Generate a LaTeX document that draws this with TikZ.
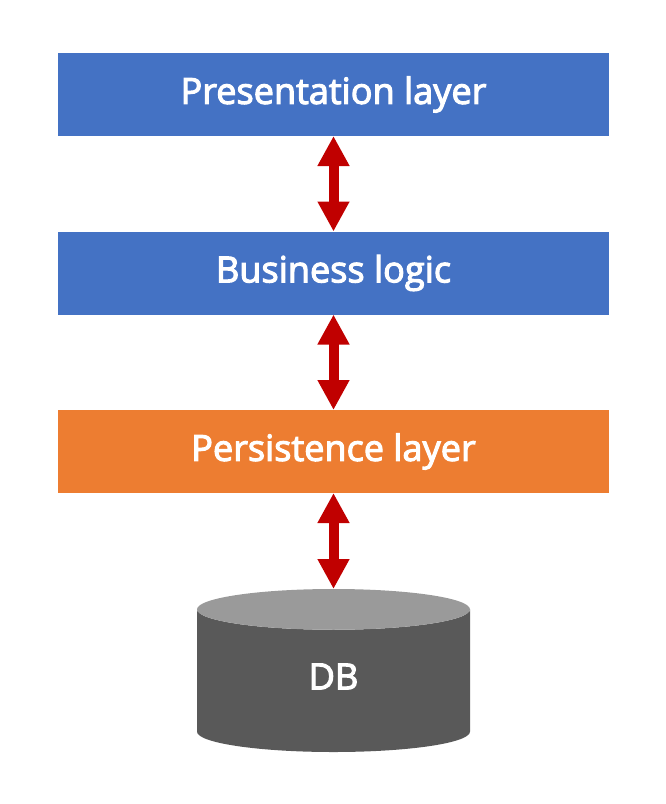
\documentclass[tikz,border=0pt]{standalone}
\usepackage{fontspec}
\setmainfont{Open Sans}[FakeBold=3]
\usepackage{xcolor}
\usetikzlibrary{shapes.geometric,arrows.meta,positioning}
\definecolor{layerblue}{HTML}{4472C4}
\definecolor{layerorange}{HTML}{ED7D31}
\definecolor{arrowred}{HTML}{C00000}
\definecolor{dbbody}{HTML}{595959}
\definecolor{dbtop}{HTML}{9A9A9A}

\begin{document}
\begin{tikzpicture}[
    node distance=2.865cm,
    label text/.style={text=white, font=\fontsize{30.8}{34}\selectfont},
    layer/.style={rectangle, label text, minimum width=16.53cm, minimum height=2.49cm, inner sep=0pt, outer sep=0pt},
    arrow/.style={line width=0.3cm, draw=arrowred, {Triangle[length=0.9cm,width=0.9cm,fill=arrowred]}-{Triangle[length=0.9cm,width=0.9cm,fill=arrowred]}},
    database/.style={cylinder, shape border rotate=90, aspect=0.82, cylinder uses custom fill, cylinder body fill=dbbody, cylinder end fill=dbtop, label text, minimum width=8.19cm, minimum height=4.89cm, inner sep=0pt, outer sep=0pt}
]
\useasboundingbox (0,0) rectangle (19.98,-24.12);

\node [layer, fill=layerblue] (present) at (10.005,-2.835) {Presentation layer};
\node [layer, fill=layerblue, below=of present] (business) {Business logic};
\node [layer, fill=layerorange, below=of business] (persist) {Persistence layer};
\node [database, below=2.88cm of persist] (db) {\phantom{DB}};
\node [label text] (dbname) at ([yshift=0.13cm]db.center) {DB};

\draw [arrow] (present) -- (business);
\draw [arrow] (business) -- (persist);
\draw [arrow] (persist) -- (db.north);

\end{tikzpicture}
\end{document}
